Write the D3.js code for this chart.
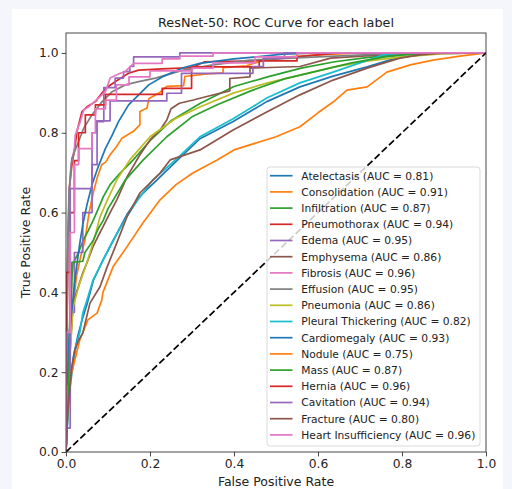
<!DOCTYPE html>
<html><head><meta charset="utf-8">
<script src="https://cdn.jsdelivr.net/npm/d3@7"></script>
<style>
html,body{margin:0;padding:0;background:#f4f6fb;}
svg{display:block;}
text{font-family:"DejaVu Sans",sans-serif;fill:#222;}
</style></head>
<body>
<svg id="chart" width="512" height="489"></svg>
<script>
const labels = ["Atelectasis","Consolidation","Infiltration","Pneumothorax","Edema","Emphysema","Fibrosis","Effusion","Pneumonia","Pleural Thickering","Cardiomegaly","Nodule","Mass","Hernia","Cavitation","Fracture","Heart Insufficiency"];
const aucs = [0.81,0.91,0.87,0.94,0.95,0.86,0.96,0.95,0.86,0.82,0.93,0.75,0.87,0.96,0.94,0.80,0.96];
const colors = ["#1f77b4","#ff7f0e","#2ca02c","#d62728","#9467bd","#8c564b","#e377c2","#7f7f7f","#bcbd22","#17becf"];
const xTicks = [0,0.2,0.4,0.6,0.8,1.0];
const yTicks = [0,0.2,0.4,0.6,0.8,1.0];

const atelectasis = [[0,0],[0.005,0.12],[0.01,0.18],[0.018,0.24],[0.028,0.29],[0.038,0.33],[0.05,0.37],[0.065,0.43],[0.09,0.485],[0.115,0.535],[0.145,0.595],[0.175,0.64],[0.21,0.675],[0.264,0.73],[0.319,0.785],[0.398,0.828],[0.478,0.878],[0.557,0.915],[0.636,0.942],[0.717,0.965],[0.78,0.985],[0.85,0.998],[1,1]];
const consolidation = [[0,0],[0.002,0.1],[0.008,0.25],[0.015,0.35],[0.025,0.44],[0.035,0.49],[0.045,0.53],[0.055,0.6],[0.065,0.65],[0.075,0.69],[0.085,0.72],[0.095,0.727],[0.105,0.745],[0.12,0.765],[0.133,0.786],[0.16,0.803],[0.176,0.82],[0.176,0.853],[0.193,0.862],[0.197,0.885],[0.222,0.9],[0.24,0.916],[0.28,0.918],[0.283,0.941],[0.33,0.947],[0.374,0.95],[0.374,0.963],[0.43,0.968],[0.486,0.987],[0.6,0.995],[0.7,1],[1,1]];
const infiltration = [[0,0],[0.003,0.15],[0.008,0.3],[0.012,0.42],[0.017,0.473],[0.03,0.5],[0.041,0.531],[0.053,0.555],[0.065,0.581],[0.077,0.61],[0.089,0.64],[0.105,0.67],[0.129,0.699],[0.16,0.732],[0.2,0.78],[0.25,0.83],[0.32,0.874],[0.4,0.916],[0.48,0.94],[0.56,0.962],[0.64,0.978],[0.72,0.989],[0.8,0.996],[0.9,1],[1,1]];
const pneumothorax = [[0,0],[0.002,0.3],[0.005,0.55],[0.008,0.66],[0.014,0.719],[0.022,0.769],[0.026,0.803],[0.038,0.853],[0.05,0.865],[0.07,0.878],[0.094,0.911],[0.117,0.928],[0.149,0.949],[0.173,0.957],[0.229,0.96],[0.3,0.963],[0.33,0.978],[0.45,0.98],[0.55,0.99],[0.65,1],[1,1]];
const edema = [[0,0],[0,0.15],[0.01,0.15],[0.01,0.35],[0.02,0.35],[0.02,0.5],[0.04,0.5],[0.04,0.6],[0.062,0.6],[0.062,0.72],[0.074,0.72],[0.074,0.828],[0.09,0.828],[0.09,0.913],[0.117,0.913],[0.117,0.937],[0.137,0.937],[0.137,0.953],[0.152,0.953],[0.152,0.966],[0.161,0.966],[0.161,0.99],[0.271,0.99],[0.271,1],[1,1]];
const emphysema = [[0,0],[0.004,0.12],[0.01,0.26],[0.017,0.373],[0.028,0.41],[0.04,0.449],[0.052,0.48],[0.064,0.514],[0.076,0.54],[0.088,0.564],[0.105,0.6],[0.121,0.632],[0.145,0.689],[0.176,0.745],[0.2,0.782],[0.224,0.807],[0.24,0.832],[0.25,0.86],[0.27,0.874],[0.303,0.882],[0.34,0.892],[0.39,0.905],[0.39,0.936],[0.438,0.94],[0.438,0.962],[0.557,0.966],[0.63,0.987],[0.75,0.995],[0.85,1],[1,1]];
const fibrosis = [[0,0],[0.002,0.3],[0.005,0.52],[0.008,0.65],[0.012,0.72],[0.02,0.76],[0.022,0.794],[0.034,0.828],[0.042,0.857],[0.054,0.865],[0.07,0.88],[0.094,0.903],[0.105,0.937],[0.129,0.949],[0.141,0.953],[0.161,0.974],[0.229,0.974],[0.229,0.985],[0.271,0.985],[0.271,0.992],[0.35,0.992],[0.35,1],[1,1]];
const effusion = [[0,0],[0.002,0.2],[0.004,0.5],[0.007,0.65],[0.014,0.736],[0.03,0.778],[0.042,0.811],[0.062,0.845],[0.086,0.878],[0.11,0.903],[0.141,0.92],[0.173,0.928],[0.213,0.937],[0.279,0.957],[0.35,0.97],[0.438,0.982],[0.6,0.99],[0.75,0.997],[1,1]];
const pneumonia = [[0,0],[0.004,0.12],[0.01,0.25],[0.017,0.363],[0.025,0.395],[0.033,0.424],[0.045,0.46],[0.057,0.499],[0.07,0.545],[0.081,0.589],[0.1,0.635],[0.121,0.682],[0.152,0.732],[0.2,0.79],[0.26,0.835],[0.32,0.865],[0.4,0.9],[0.48,0.925],[0.56,0.945],[0.64,0.965],[0.72,0.98],[0.8,0.99],[0.9,0.998],[1,1]];
const pleuralThickering = [[0,0],[0.005,0.1],[0.01,0.163],[0.017,0.22],[0.025,0.27],[0.033,0.3],[0.04,0.348],[0.05,0.381],[0.064,0.43],[0.088,0.48],[0.112,0.53],[0.145,0.59],[0.17,0.63],[0.207,0.682],[0.264,0.735],[0.319,0.79],[0.398,0.835],[0.478,0.887],[0.557,0.925],[0.636,0.952],[0.7,0.975],[0.755,0.995],[0.8,1],[1,1]];
const cardiomegaly = [[0,0],[0.003,0.15],[0.008,0.3],[0.014,0.356],[0.02,0.42],[0.026,0.47],[0.033,0.524],[0.04,0.57],[0.05,0.62],[0.062,0.67],[0.075,0.71],[0.094,0.761],[0.11,0.794],[0.125,0.828],[0.149,0.87],[0.173,0.895],[0.197,0.92],[0.229,0.94],[0.279,0.963],[0.319,0.974],[0.4,0.985],[0.517,0.997],[0.6,1],[1,1]];
const nodule = [[0,0],[0.002,0.05],[0.005,0.163],[0.017,0.213],[0.033,0.281],[0.052,0.331],[0.074,0.348],[0.085,0.38],[0.088,0.4],[0.112,0.464],[0.145,0.514],[0.183,0.574],[0.224,0.632],[0.262,0.67],[0.302,0.699],[0.36,0.732],[0.4,0.757],[0.421,0.764],[0.5,0.79],[0.557,0.815],[0.6,0.85],[0.636,0.877],[0.669,0.907],[0.717,0.915],[0.764,0.952],[0.82,0.97],[0.874,0.982],[0.938,0.992],[1,1]];
const mass = [[0,0],[0.005,0.12],[0.01,0.3],[0.014,0.42],[0.014,0.475],[0.04,0.478],[0.045,0.5],[0.065,0.531],[0.077,0.56],[0.089,0.581],[0.1,0.61],[0.113,0.632],[0.14,0.68],[0.184,0.732],[0.24,0.79],[0.3,0.84],[0.36,0.87],[0.44,0.905],[0.52,0.935],[0.6,0.955],[0.68,0.975],[0.76,0.99],[0.85,1],[1,1]];
const hernia = [[0,0],[0,0.45],[0.01,0.45],[0.01,0.6],[0.02,0.6],[0.02,0.73],[0.03,0.73],[0.03,0.8],[0.046,0.8],[0.046,0.845],[0.07,0.845],[0.07,0.87],[0.094,0.87],[0.094,0.896],[0.229,0.896],[0.229,0.911],[0.299,0.911],[0.299,0.965],[0.46,0.965],[0.46,0.98],[0.55,0.98],[0.55,1],[1,1]];
const cavitation = [[0,0],[0,0.06],[0.01,0.06],[0.01,0.66],[0.062,0.66],[0.062,0.8],[0.072,0.8],[0.072,0.83],[0.105,0.83],[0.105,0.88],[0.24,0.88],[0.24,0.899],[0.275,0.899],[0.275,0.949],[0.445,0.949],[0.445,0.966],[0.47,0.966],[0.47,0.987],[0.52,0.987],[0.52,1],[1,1]];
const fracture = [[0,0],[0.004,0.1],[0.01,0.17],[0.014,0.213],[0.021,0.256],[0.03,0.28],[0.04,0.298],[0.057,0.373],[0.081,0.414],[0.098,0.464],[0.121,0.524],[0.145,0.589],[0.176,0.649],[0.224,0.699],[0.248,0.732],[0.319,0.757],[0.398,0.807],[0.478,0.852],[0.557,0.895],[0.636,0.932],[0.717,0.962],[0.795,0.987],[0.843,0.995],[0.9,1],[1,1]];
const heartInsufficiency = [[0,0],[0,0.3],[0.01,0.3],[0.01,0.55],[0.02,0.55],[0.02,0.72],[0.03,0.72],[0.03,0.76],[0.062,0.76],[0.062,0.8],[0.07,0.8],[0.07,0.86],[0.094,0.86],[0.094,0.882],[0.12,0.882],[0.12,0.92],[0.15,0.92],[0.15,0.94],[0.2,0.94],[0.2,0.955],[0.3,0.955],[0.3,0.962],[0.35,0.962],[0.35,0.975],[0.45,0.975],[0.45,0.99],[0.55,0.99],[0.55,1],[1,1]];

const curves = [atelectasis,consolidation,infiltration,pneumothorax,edema,emphysema,fibrosis,effusion,pneumonia,pleuralThickering,cardiomegaly,nodule,mass,hernia,cavitation,fracture,heartInsufficiency];

const svg = d3.select("#chart");
const L = 66, R = 486, T = 33, B = 452;
const x = d3.scaleLinear().domain([0,1]).range([L,R]);
const y = d3.scaleLinear().domain([0,1.05]).range([B,T]);

// figure background
svg.append("rect").attr("x",12).attr("y",9).attr("width",491).attr("height",480).attr("fill","#fff");

svg.append("clipPath").attr("id","clip").append("rect").attr("x",L).attr("y",T).attr("width",R-L).attr("height",B-T);

const line = d3.line().x(d=>x(d[0])).y(d=>y(d[1]));
const g = svg.append("g").attr("clip-path","url(#clip)");
curves.forEach((c,i)=>{
  g.append("path").datum(c).attr("d",line).attr("fill","none")
   .attr("stroke",colors[i%10]).attr("stroke-width",1.7).attr("stroke-linejoin","round");
});
g.append("path").datum([[0,0],[1,1]]).attr("d",line).attr("fill","none")
  .attr("stroke","#000").attr("stroke-width",1.7).attr("stroke-dasharray","6.9,3");

// axes
const xAxis = d3.axisBottom(x).tickValues(xTicks).tickFormat(d3.format(".1f")).tickSize(4.4).tickPadding(3);
const yAxis = d3.axisLeft(y).tickValues(yTicks).tickFormat(d3.format(".1f")).tickSize(4.4).tickPadding(3);
const gx = svg.append("g").attr("transform",`translate(0,${B})`).call(xAxis);
const gy = svg.append("g").attr("transform",`translate(${L},0)`).call(yAxis);
[gx,gy].forEach(a=>{
  a.select(".domain").remove();
  a.selectAll("line").attr("stroke","#333").attr("stroke-width",0.9);
  a.selectAll("text").style("font-family","DejaVu Sans").style("font-size","12.3px").attr("fill","#222");
});
svg.append("rect").attr("x",L).attr("y",T).attr("width",R-L).attr("height",B-T)
  .attr("fill","none").attr("stroke","#333").attr("stroke-width",0.9);

// title and labels
svg.append("text").attr("x",(L+R)/2).attr("y",27).attr("text-anchor","middle").style("font-size","12.8px").text("ResNet-50: ROC Curve for each label");
svg.append("text").attr("x",(L+R)/2).attr("y",486).attr("text-anchor","middle").style("font-size","12.5px").text("False Positive Rate");
svg.append("text").attr("transform",`translate(30,${(T+B)/2}) rotate(-90)`).attr("text-anchor","middle").style("font-size","12.5px").text("True Positive Rate");

// legend
const lg = svg.append("g");
lg.append("rect").attr("x",267).attr("y",167).attr("width",213).attr("height",279).attr("rx",3)
  .attr("fill","#fff").attr("fill-opacity",0.8).attr("stroke","#d6d6d6").attr("stroke-width",0.9);
labels.forEach((lab,i)=>{
  const yy = 175.7 + i*16.2;
  lg.append("line").attr("x1",270).attr("x2",292.5).attr("y1",yy).attr("y2",yy)
    .attr("stroke",colors[i%10]).attr("stroke-width",1.7);
  lg.append("text").attr("x",301.3).attr("y",yy).attr("dy","0.36em").style("font-size","10.7px")
    .text(`${lab} (AUC = ${aucs[i].toFixed(2)})`);
});
</script>
</body></html>
